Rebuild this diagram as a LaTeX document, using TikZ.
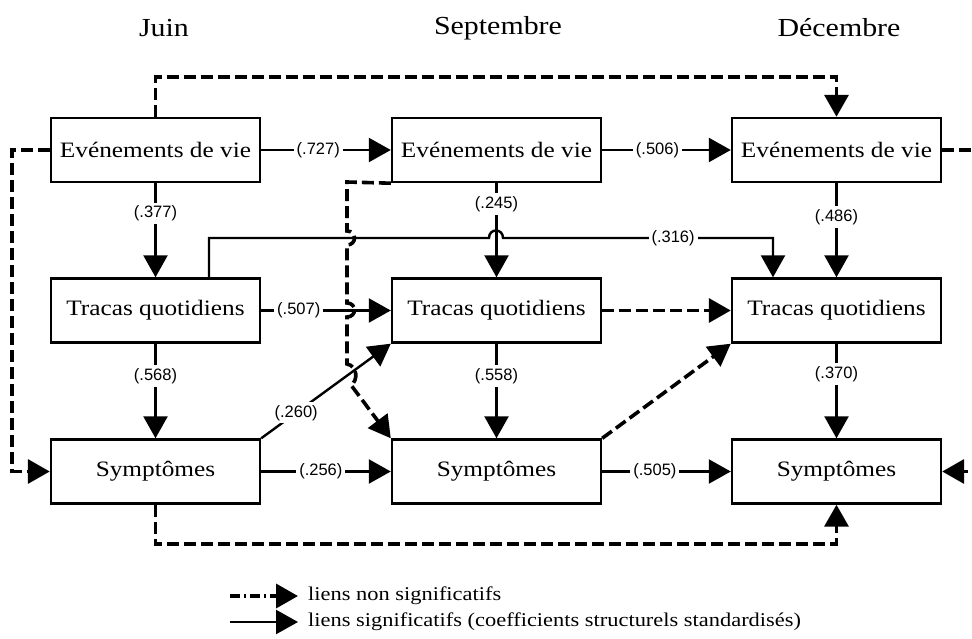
\documentclass[tikz,border=0pt]{standalone}
\usepackage{fontspec}
\setmainfont{Liberation Serif}
\newfontfamily\boxfont[FakeStretch=1.15]{Liberation Serif}
\newfontfamily\labfont{Liberation Sans}
\usetikzlibrary{arrows.meta}
\begin{document}
\begin{tikzpicture}[x=1pt,y=-1pt,
  box/.style={draw, line width=2.4pt, minimum width=209pt, minimum height=64pt,
    inner sep=0pt, font=\boxfont\fontsize{22}{24}\selectfont},
  head/.style={font=\boxfont\fontsize{26}{28}\selectfont},
  tip/.style={-{Triangle[length=22pt,width=24pt]}},
  sig/.style={line width=2.4pt, tip},
  nsigline/.style={line width=3.6pt, dash pattern=on 12pt off 5pt},
  nsig/.style={nsigline, tip},
  lab/.style={fill=white, inner sep=3pt, font=\labfont\fontsize{16.5}{18}\selectfont},
  legtext/.style={anchor=west, inner sep=0pt, font=\boxfont\fontsize{19.5}{21}\selectfont}]
\useasboundingbox (0,0) rectangle (972,639);

% column headings
\node[head] (hjun) at (164,28) {Juin};
\node[head] (hsep) at (498,28) {Septembre};
\node[head] (hdec) at (839,28) {Décembre};

% boxes
\node[box] (e1) at (155.5,150) {Evénements de vie};
\node[box] (e2) at (496.5,150) {Evénements de vie};
\node[box] (e3) at (836.5,150) {Evénements de vie};
\node[box] (t1) at (155.5,310.5) {Tracas quotidiens};
\node[box] (t2) at (496.5,310.5) {Tracas quotidiens};
\node[box] (t3) at (836.5,310.5) {Tracas quotidiens};
\node[box] (s1) at (155.5,471.5) {Symptômes};
\node[box] (s2) at (496.5,471.5) {Symptômes};
\node[box] (s3) at (836.5,471.5) {Symptômes};

% free ends at the right margin
\coordinate (outE) at (985,150);
\coordinate (inS) at (985,471.5);

% significant paths
\draw[sig] (e1) -- node[lab,pos=0.44]{(.727)} (e2);
\draw[sig] (e2) -- node[lab,pos=0.43]{(.506)} (e3);
\draw[sig] (t1) -- node[lab,pos=0.29]{(.507)} (t2);
\draw[sig] (s1) -- node[lab,pos=0.46]{(.256)} (s2);
\draw[sig] (s2) -- node[lab,pos=0.41]{(.505)} (s3);
\draw[sig] (e1) -- node[lab,pos=0.32]{(.377)} (t1);
\draw[sig] (e2) -- node[lab,pos=0.22]{(.245)} (t2);
\draw[sig] (e3) -- node[lab,pos=0.36]{(.486)} (t3);
\draw[sig] (t1) -- node[lab,pos=0.34]{(.568)} (s1);
\draw[sig] (t2) -- node[lab,pos=0.34]{(.558)} (s2);
\draw[sig] (t3) -- node[lab,pos=0.32]{(.370)} (s3);
\draw[sig] (s1.north east) -- node[lab,pos=0.27]{(.260)} (t2.south west);
\draw[sig] ([xshift=53.5pt]t1.north) -- (209,238) -- (489,238)
  .. controls (489,228) and (503,228) .. (503,238)
  -- node[lab,pos=0.63]{(.316)} (773,238) -- ([xshift=-63.5pt]t3.north);

% non-significant paths
\draw[nsig] (t2) -- (t3);
\draw[nsig] (s2.north east) -- (t3.south west);
\draw[nsig] (e2.south west) -- (347,182) -- (347,231)
  .. controls (357,231) and (357,245) .. (347,245) -- (347,303)
  .. controls (357,303) and (357,317) .. (347,317) -- (347,364)
  .. controls (358,366) and (358,381) .. (351,385) -- (s2.north west);
\draw[nsig] (e1.west) -- (12,150) -- (12,471.5) -- (s1.west);
\draw[nsig] (e1.north) -- (155.5,77) -- (836.5,77) -- (e3.north);
\draw[nsig] (s1.south) -- (155.5,544) -- (836.5,544) -- (s3.south);
\draw[nsigline] (e3.east) -- (outE);
\draw[nsig] (inS) -- (s3.east);

% legend
\coordinate (la) at (230,596);
\coordinate (lb) at (298,596);
\coordinate (lc) at (230,622);
\coordinate (ld) at (298,622);
\draw[line width=3.6pt, dash pattern=on 10pt off 4pt on 2pt off 4pt, tip] (la) -- (lb);
\draw[sig] (lc) -- (ld);
\node[legtext] (lt1) at (308,596) {liens non significatifs};
\node[legtext] (lt2) at (308,622) {liens significatifs (coefficients structurels standardisés)};
\end{tikzpicture}
\end{document}
